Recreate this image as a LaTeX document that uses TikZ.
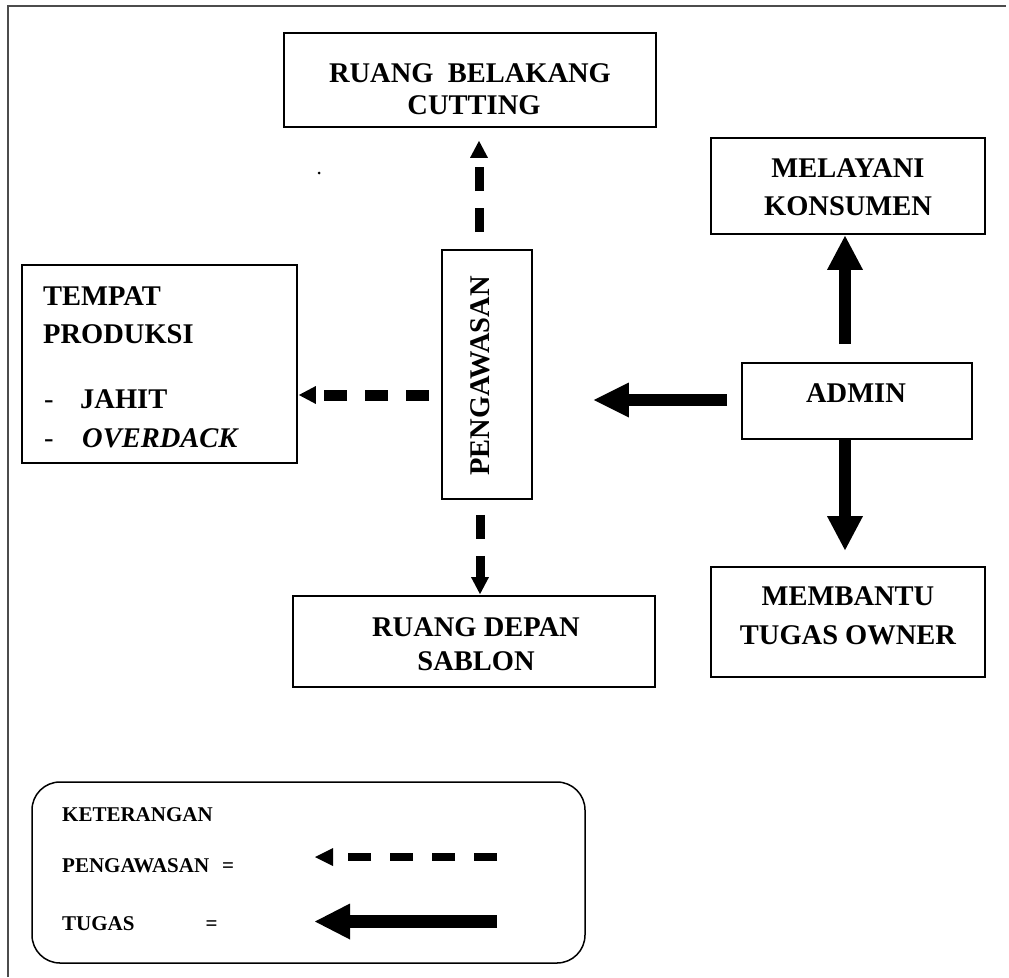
\documentclass[tikz,border=0pt]{standalone}
\usepackage{fontspec}
\setmainfont{Liberation Serif}
\usetikzlibrary{arrows.meta,calc}
\begin{document}
\begin{tikzpicture}[x=1pt,y=-1pt,
  box/.style={draw=black,line width=1.8pt,inner sep=0pt},
  lbl/.style={font=\fontsize{28.5}{34}\selectfont\bfseries,inner sep=0pt,anchor=base},
  lblw/.style={lbl,anchor=base west},
  dashtxt/.style={font=\fontsize{28.5}{34}\selectfont,inner sep=0pt,anchor=base west},
  lgd/.style={font=\fontsize{21}{25}\selectfont\bfseries,inner sep=0pt,anchor=base west},
  pengv/.style={line width=9pt,dash pattern=on 24pt off 17pt,
    -{Triangle[width=18pt,length=17pt,line width=0pt 0 0]}},
  pengh/.style={line width=11pt,dash pattern=on 23pt off 18pt,
    -{Triangle[width=18pt,length=17pt,line width=0pt 0 0]}},
  tugasv/.style={line width=12pt,-{Triangle[width=36pt,length=34pt,line width=0pt 0 0]}},
  tugash/.style={line width=12pt,-{Triangle[width=35pt,length=35pt,line width=0pt 0 0]}}]
\useasboundingbox (0,0) rectangle (1009,977);
% outer frame
\draw[line width=2pt,draw=black!70] (8,977) -- (8,6) -- (1006,6);
% boxes
\node[box,minimum width=372pt,minimum height=94pt] (rb) at (470,80) {};
\node[box,minimum width=274pt,minimum height=96pt] (mk) at (848,186) {};
\node[box,minimum width=90pt,minimum height=249pt] (peng) at (487,374.5) {};
\node[box,minimum width=275pt,minimum height=198pt] (tp) at (159.5,364) {};
\node[box,minimum width=230pt,minimum height=76pt] (admin) at (857,401) {};
\node[box,minimum width=274pt,minimum height=110pt] (mb) at (848,622) {};
\node[box,minimum width=362pt,minimum height=91pt] (rd) at (474,641.5) {};
\node[draw=black,line width=1.5pt,rounded corners=28pt,inner sep=0pt,
  minimum width=553pt,minimum height=181pt] (legend) at (308.5,872.5) {};
% texts
\node[lbl] (t1) at (470,82) {RUANG~~BELAKANG};
\node[lbl] (t2) at (474,114) {CUTTING};
\node[lbl] (t3) at (848,177) {MELAYANI};
\node[lbl] (t4) at (848,215) {KONSUMEN};
\node[lbl] (t5) at (856,402) {ADMIN};
\node[lbl] (t6) at (848,605) {MEMBANTU};
\node[lbl] (t7) at (848,644) {TUGAS OWNER};
\node[lbl] (t8) at (476,636) {RUANG DEPAN};
\node[lbl] (t9) at (476,670) {SABLON};
\node[lblw] (t10) at (43,305) {TEMPAT};
\node[lblw] (t11) at (43,343) {PRODUKSI};
\node[dashtxt] (t12) at (44,408) {-};
\node[lblw] (t13) at (80,408) {JAHIT};
\node[dashtxt] (t14) at (44,447) {-};
\node[lblw] (t15) at (82,447) {\itshape OVERDACK};
\node[lbl,anchor=center,rotate=90] (t16) at (480.5,376) {PENGAWASAN};
\fill (319,173) circle (1.5pt);
% legend texts
\node[lgd] (l1) at (62,821) {KETERANGAN};
\node[lgd] (l2) at (62,872) {PENGAWASAN\hspace{13pt}=};
\node[lgd] (l3) at (62,930) {TUGAS\hspace{71pt}=};
% pengawasan connectors
\draw[pengv,shorten <=17pt,shorten >=13pt] ([xshift=-8pt]peng.north) -- ([xshift=9pt]rb.south);
\draw[pengv,shorten <=15pt,shorten >=1pt] ([xshift=-7pt]peng.south) -- ([xshift=6pt]rd.north);
\draw[pengh,shorten <=12pt,shorten >=1pt] ([yshift=-20.5pt]peng.west) -- ([yshift=-31pt]tp.east);
% tugas connectors
\draw[tugash,shorten <=14pt,shorten >=61pt] ([yshift=1pt]admin.west) -- ([yshift=1pt]admin.west -| peng.east);
\draw[tugasv,shorten <=18pt,shorten >=1pt] ([xshift=-12pt]admin.north) -- ([xshift=-3pt]mk.south);
\draw[tugasv,shorten >=16pt] ([xshift=-12pt]admin.south) -- ([xshift=-3pt]mb.north);
% legend arrows
\coordinate (lda) at (497,857);
\coordinate (ldb) at (315,857);
\coordinate (lsa) at (497,921.5);
\coordinate (lsb) at (315,921.5);
\draw[line width=8pt,dash pattern=on 23pt off 19pt,
  -{Triangle[width=18pt,length=18pt,line width=0pt 0 0]}] (lda) -- (ldb);
\draw[line width=13pt,-{Triangle[width=36pt,length=35pt,line width=0pt 0 0]}] (lsa) -- (lsb);
\end{tikzpicture}
\end{document}
